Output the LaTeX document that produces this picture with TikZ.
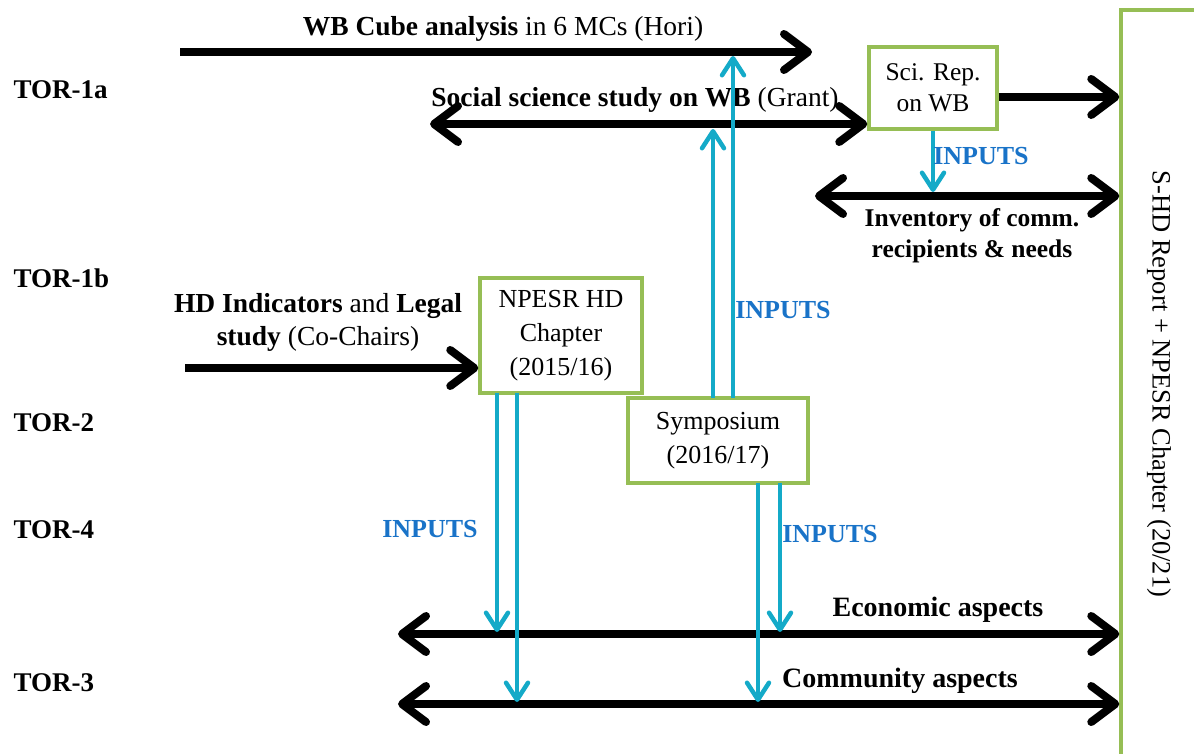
\documentclass[tikz,border=0pt]{standalone}
\usepackage{fontspec}
\setmainfont{Liberation Serif}
\usetikzlibrary{arrows.meta,calc}
\definecolor{boxgreen}{RGB}{150,190,85}
\definecolor{inputcyan}{RGB}{20,170,200}
\definecolor{inputblue}{RGB}{25,115,200}
\begin{document}
\begin{tikzpicture}[x=1pt,y=-1pt,
  box/.style={draw=boxgreen,line width=3.5pt,fill=white,align=center,font=\fontsize{26}{34}\selectfont,inner sep=0pt},
  shade/.style={preaction={draw=black!14,transform canvas={shift={(1.5pt,-3pt)}}}},
  flow/.style={line width=8pt,shade,-{Straight Barb[length=24pt,width=36pt,round]}},
  both/.style={line width=8pt,shade,{Straight Barb[length=24pt,width=36pt,round]}-{Straight Barb[length=24pt,width=36pt,round]}},
  inp/.style={draw=inputcyan,line width=4.5pt,-{Straight Barb[length=17pt,width=22pt,round]}},
  inlabel/.style={text=inputblue,font=\bfseries\fontsize{26}{30}\selectfont},
  tor/.style={font=\bfseries\fontsize{27}{30}\selectfont,anchor=west},
  lab/.style={font=\fontsize{27.5}{33}\selectfont,align=center},
  blab/.style={font=\bfseries\fontsize{28}{33}\selectfont,align=center}]
\useasboundingbox (0,0) rectangle (1194,754);
\clip (0,0) rectangle (1194,754);
% report box
\node[draw=boxgreen,line width=3.5pt,minimum width=100pt,minimum height=760pt,inner sep=0pt] (report) at (1171,390) {};
\node[rotate=-90,font=\fontsize{26.5}{30}\selectfont] (reporttext) at (1159,384) {S-HD Report + NPESR Chapter (20/21)};
% TOR labels
\node[tor] (tor1a) at (10,90) {TOR-1a};
\node[tor] (tor1b) at (10,278) {TOR-1b};
\node[tor] (tor2) at (10,423) {TOR-2};
\node[tor] (tor4) at (10,530) {TOR-4};
\node[tor] (tor3) at (10,683) {TOR-3};
% boxes
\node[box,minimum width=128pt,minimum height=82pt,font=\fontsize{25.5}{31}\selectfont] (sci) at (933,88) {Sci. Rep.\\on WB};
\node[box,minimum width=162pt,minimum height=115pt] (npesr) at (561,335.5) {NPESR HD\\Chapter\\(2015/16)};
\node[box,minimum width=180pt,minimum height=85pt] (symp) at (718,440.5) {Symposium\\(2016/17)};
% WB cube arrow
\coordinate (wbs) at (180,52);
\coordinate (wbe) at (812,52);
\draw[flow] (wbs) -- (wbe);
\node[lab] (wblab) at (503,29) {\textbf{WB Cube analysis} in 6 MCs (Hori)};
% social science
\coordinate (sss) at (430,124);
\draw[both] (sss) -- (sss -| sci.west);
\node[lab] (sslab) at (635,100) {\textbf{Social science study on WB} (Grant)};
% sci to report
\coordinate (scio) at ($(sci.east)+(0,9)$);
\draw[flow] (scio) -- (scio -| report.west);
% inventory
\coordinate (invs) at (815,196);
\draw[both] (invs) -- (invs -| report.west);
\node[lab,font=\bfseries\fontsize{25.5}{31}\selectfont] (invlab) at (972,236) {Inventory of comm.\\recipients \& needs};
\draw[inp] (sci.south) -- (933,192);
\node[inlabel] (in1) at (981,156) {INPUTS};
% HD indicators
\coordinate (hds) at (185,368);
\draw[flow] (hds) -- (hds -| npesr.west);
\node[lab] (hdlab) at (318,322) {\textbf{HD Indicators} and \textbf{Legal}\\\textbf{study} (Co-Chairs)};
% economic & community
\coordinate (ecs) at (398,634);
\coordinate (cos) at (398,704);
\draw[both] (ecs) -- (ecs -| report.west);
\draw[both] (cos) -- (cos -| report.west);
\node[blab] (eclab) at (938,610) {Economic aspects};
\node[blab] (colab) at (900,681) {Community aspects};
% symposium up
\draw[inp] (713,398) -- (713,129);
\draw[inp] (733,398) -- (733,56);
\node[inlabel] (in2) at (783,310) {INPUTS};
% npesr down
\draw[inp] (497,393) -- (497,632);
\draw[inp] (517,393) -- (517,702);
\node[inlabel] (in3) at (430,529) {INPUTS};
% symp down
\draw[inp] (758,483) -- (758,702);
\draw[inp] (780,483) -- (780,632);
\node[inlabel] (in4) at (830,534) {INPUTS};
\end{tikzpicture}
\end{document}
